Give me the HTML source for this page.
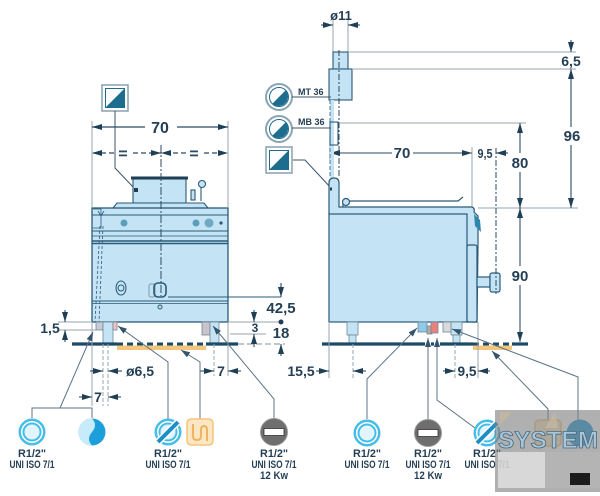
<!DOCTYPE html>
<html><head><meta charset="utf-8"><style>
html,body{margin:0;padding:0;background:#fff;}
svg{display:block;}
text{font-family:"Liberation Sans",Arial,sans-serif;font-weight:bold;fill:#243f55;}
</style></head><body>
<svg width="600" height="496" viewBox="0 0 600 496" xmlns="http://www.w3.org/2000/svg">
<defs>
<marker id="a" viewBox="0 0 10 6" refX="10" refY="3" markerWidth="10" markerHeight="6" markerUnits="userSpaceOnUse" orient="auto-start-reverse"><path d="M0,0L10,3L0,6z" fill="#1f3f56"/></marker>
<marker id="b" viewBox="0 0 9 6" refX="9" refY="3" markerWidth="9" markerHeight="6" markerUnits="userSpaceOnUse" orient="auto-start-reverse"><path d="M0,0L9,3L0,6z" fill="#34546a"/></marker>
</defs>
<rect width="600" height="496" fill="#fff"/>

<!-- ================= LEFT (FRONT) VIEW ================= -->
<g transform="translate(115,98)">
 <rect x="-13" y="-13" width="26" height="26" fill="#fff" stroke="#8aa0ae" stroke-width="1.5"/>
 <rect x="-9.5" y="-9.5" width="19" height="19" fill="#fff" stroke="#1d6d8f" stroke-width="1"/>
 <polygon points="-9.5,9.5 9.5,-9.5 9.5,9.5" fill="#1d6d8f"/>
</g>
<polyline points="115,111 115,168 135,189" fill="none" stroke="#3b5569" stroke-width="1"/>

<g stroke="#9aa7b0" stroke-width="1" fill="none">
 <line x1="92" y1="121" x2="92" y2="207"/>
 <line x1="228" y1="121" x2="228" y2="207"/>
</g>
<g stroke="#2e4a60" stroke-width="1.2" fill="none">
 <line x1="145" y1="127" x2="92" y2="127" marker-end="url(#a)"/>
 <line x1="177" y1="127" x2="228" y2="127" marker-end="url(#a)"/>
</g>
<text x="160" y="133" font-size="16" text-anchor="middle">70</text>
<g stroke="#2e4a60" stroke-width="1.2" stroke-dasharray="5,3" fill="none">
 <line x1="114" y1="153" x2="92" y2="153" marker-end="url(#a)"/>
 <line x1="133" y1="153" x2="161" y2="153" marker-end="url(#a)"/>
 <line x1="186" y1="153" x2="161" y2="153" marker-end="url(#a)"/>
 <line x1="204" y1="153" x2="228" y2="153" marker-end="url(#a)"/>
</g>
<g fill="#2e4a60">
 <rect x="119" y="150.5" width="8" height="1.8"/><rect x="119" y="154.5" width="8" height="1.8"/>
 <rect x="190" y="150.5" width="8" height="1.8"/><rect x="190" y="154.5" width="8" height="1.8"/>
</g>

<g stroke="#2a5a78" stroke-width="1.1" fill="#c4e4f5">
 <rect x="133" y="179" width="53" height="24"/>
 <polygon points="113,208 117,203 204,203 208,208"/>
 <rect x="191" y="190" width="4" height="10"/>
 <line x1="201" y1="187" x2="201" y2="201"/>
 <circle cx="202" cy="184" r="3.5"/>
</g>
<rect x="131" y="176.5" width="57" height="3" fill="#1f3f56"/>
<rect x="134" y="188" width="4" height="4" fill="#1f3f56"/>

<rect x="92" y="208" width="136" height="114" fill="#c4e4f5" stroke="#2a5a78" stroke-width="1.3"/>
<g stroke="#2a5a78" fill="none">
 <line x1="92" y1="215" x2="228" y2="215" stroke-width="1"/>
 <line x1="92" y1="231" x2="228" y2="231" stroke-width="1"/>
 <line x1="92" y1="236" x2="228" y2="236" stroke-width="0.8"/>
 <line x1="92" y1="241" x2="228" y2="241" stroke-width="1.4"/>
 <line x1="92" y1="243.5" x2="228" y2="243.5" stroke-width="1.4"/>
 <line x1="92" y1="301" x2="228" y2="301" stroke-width="1"/>
 <line x1="92" y1="303.5" x2="228" y2="303.5" stroke-width="0.8"/>
 <path d="M93,209 L101,209 L101,228 L93,228" stroke-width="0.8"/>
 <path d="M98,211 L101,216 L104,211" stroke-width="0.8"/>
 <line x1="100" y1="226" x2="95" y2="322" stroke-dasharray="3,2" stroke-width="0.8"/>
 <line x1="103" y1="226" x2="99" y2="322" stroke-dasharray="3,2" stroke-width="0.8"/>
</g>
<g fill="#5b9dbb">
 <circle cx="124" cy="223" r="3.5"/>
 <circle cx="196" cy="223" r="3.5"/>
 <circle cx="209" cy="223" r="4.5" fill="#6fa9c3"/>
 <circle cx="221" cy="223" r="1.6" fill="#2a5a78"/>
</g>
<g fill="none" stroke="#2a5a78" stroke-width="1">
 <ellipse cx="121" cy="288" rx="5" ry="7"/>
 <circle cx="121" cy="288" r="3"/>
 <rect x="149" y="284" width="6" height="13" rx="2" stroke="#7a9aae"/>
 <rect x="154" y="283" width="12" height="14" rx="4" stroke-width="1.6"/>
 <circle cx="160" cy="307" r="2"/>
</g>
<line x1="161" y1="145" x2="161" y2="296" stroke="#2e4a60" stroke-width="1" stroke-dasharray="8,2,2,2"/>

<g stroke="#6f8797" stroke-width="0.8">
 <rect x="96" y="322" width="7" height="8" fill="#c9cdd3"/>
 <rect x="103" y="322" width="10" height="21" fill="#c4e4f5"/>
 <rect x="113" y="322" width="4" height="8" fill="#f3c3bd"/>
 <rect x="202" y="322" width="8" height="13" fill="#c9c3cc"/>
 <rect x="210" y="322" width="9" height="21" fill="#c4e4f5"/>
</g>
<rect x="117" y="345.5" width="89" height="4.5" fill="#f4c67d"/>
<line x1="72" y1="344" x2="117" y2="344" stroke="#1b4a66" stroke-width="3.2"/>
<line x1="117" y1="344" x2="206" y2="344" stroke="#1b4a66" stroke-width="3" stroke-dasharray="6,4"/>
<line x1="206" y1="344" x2="238" y2="344" stroke="#1b4a66" stroke-width="3.2"/>
<line x1="238" y1="344" x2="285" y2="344" stroke="#9aa7b0" stroke-width="1.2" stroke-dasharray="6,3"/>

<g stroke="#9aa7b0" stroke-width="1" fill="none">
 <line x1="58" y1="322" x2="92" y2="322"/>
 <line x1="58" y1="330" x2="96" y2="330"/>
 <line x1="92" y1="322" x2="92" y2="406"/>
 <line x1="103" y1="344" x2="103" y2="406" stroke-dasharray="4,2"/>
 <line x1="108" y1="344" x2="108" y2="406" stroke-dasharray="4,2"/>
 <line x1="214" y1="344" x2="214" y2="376" stroke-dasharray="4,2"/>
 <line x1="228" y1="322" x2="228" y2="376"/>
 <line x1="228" y1="322" x2="281" y2="322"/>
 <line x1="230" y1="334" x2="266" y2="334"/>
 <line x1="228" y1="297" x2="168" y2="297" stroke="#2a5a78"/>
 <line x1="228" y1="297" x2="281" y2="297" stroke="#2a5a78"/>
</g>
<g stroke="#2e4a60" stroke-width="1.1" fill="none">
 <line x1="65" y1="310" x2="65" y2="322" marker-end="url(#a)"/>
 <line x1="65" y1="342" x2="65" y2="330" marker-end="url(#a)"/>
 <line x1="254" y1="310" x2="254" y2="322" marker-end="url(#a)"/>
 <line x1="254" y1="347" x2="254" y2="334" marker-end="url(#a)"/>
 <line x1="281" y1="283" x2="281" y2="297" marker-end="url(#a)"/>
 <line x1="281" y1="356" x2="281" y2="344" marker-end="url(#a)"/>
 <line x1="90" y1="371" x2="103" y2="371" marker-end="url(#a)"/>
 <line x1="122" y1="371" x2="108" y2="371" marker-end="url(#a)"/>
 <line x1="200" y1="371" x2="214" y2="371" marker-end="url(#a)"/>
 <line x1="241" y1="371" x2="228" y2="371" marker-end="url(#a)"/>
 <line x1="79" y1="397" x2="92" y2="397" marker-end="url(#a)"/>
 <line x1="121" y1="397" x2="108" y2="397" marker-end="url(#a)"/>
</g>
<circle cx="281" cy="322" r="2.5" fill="#1f3f56"/>
<text x="50" y="333" font-size="14" text-anchor="middle">1,5</text>
<text x="255" y="332" font-size="12" text-anchor="middle">3</text>
<text x="281" y="313" font-size="15" text-anchor="middle">42,5</text>
<text x="281" y="338" font-size="15" text-anchor="middle">18</text>
<text x="140" y="376" font-size="14" text-anchor="middle">ø6,5</text>
<text x="221" y="376" font-size="14" text-anchor="middle">7</text>
<text x="98" y="402" font-size="14" text-anchor="middle">7</text>

<g stroke="#5c7384" stroke-width="1" fill="none">
 <line x1="60" y1="408" x2="93" y2="332" marker-end="url(#b)"/>
 <polyline points="32,418 32,408 92,408 92,418"/>
 <polyline points="168,419 168,362 118,326" marker-end="url(#b)"/>
 <polyline points="200,419 200,362 181,350" marker-end="url(#b)"/>
 <polyline points="274,419 274,399 213,326" marker-end="url(#b)"/>
</g>

<g transform="translate(32,432)">
 <circle r="13.5" fill="#45bde8"/><circle r="11" fill="#fff"/><circle r="9.5" fill="#45bde8"/><circle r="7.5" fill="#e3f5fc"/>
</g>
<g transform="translate(92,432)">
 <circle r="13.5" fill="#1d9fdc"/>
 <path d="M0,-13.5 A13.5,13.5 0 0 0 0,13.5 Q-6,7 0,0 Q6,-7 0,-13.5Z" fill="#c8ebfa"/>
</g>
<g transform="translate(168,432)">
 <circle r="13.5" fill="#45bde8"/><circle r="11" fill="#fff"/><circle r="9.5" fill="#45bde8"/><circle r="7.5" fill="#e3f5fc"/>
 <line x1="-10" y1="10" x2="10" y2="-10" stroke="#fff" stroke-width="7"/>
 <line x1="-10" y1="10" x2="10" y2="-10" stroke="#1e8ec6" stroke-width="4"/>
</g>
<g transform="translate(200,432)">
 <rect x="-13" y="-13" width="26" height="26" rx="4" fill="#fde6c2" stroke="#f3c47f" stroke-width="1.5"/>
 <path d="M-7,-8 V4 Q-7,8 -3,8 Q1,8 1,4 V-2 Q1,-6 4,-6 Q7,-6 7,-2 V9" fill="none" stroke="#efb463" stroke-width="2"/>
</g>
<g transform="translate(274,432)">
 <circle r="13.5" fill="#6e6e6e" stroke="#9a9a9a" stroke-width="1"/>
 <rect x="-10" y="-3.5" width="20" height="7" fill="#fff" stroke="#333" stroke-width="0.8"/>
</g>
<g font-size="11" text-anchor="middle">
 <text x="32" y="457" textLength="28" lengthAdjust="spacingAndGlyphs">R1/2"</text>
 <text x="32" y="468" textLength="45" lengthAdjust="spacingAndGlyphs">UNI ISO 7/1</text>
 <text x="168" y="457" textLength="28" lengthAdjust="spacingAndGlyphs">R1/2"</text>
 <text x="168" y="468" textLength="45" lengthAdjust="spacingAndGlyphs">UNI ISO 7/1</text>
 <text x="274" y="457" textLength="28" lengthAdjust="spacingAndGlyphs">R1/2"</text>
 <text x="274" y="468" textLength="45" lengthAdjust="spacingAndGlyphs">UNI ISO 7/1</text>
 <text x="274" y="479" textLength="28" lengthAdjust="spacingAndGlyphs">12 Kw</text>
</g>

<!-- ================= RIGHT (SIDE) VIEW ================= -->
<g stroke="#9aa7b0" stroke-width="1" fill="none">
 <line x1="333" y1="18" x2="333" y2="52"/>
 <line x1="348" y1="18" x2="348" y2="52"/>
 <line x1="349" y1="52" x2="576" y2="52"/>
 <line x1="353" y1="69" x2="576" y2="69"/>
 <line x1="340" y1="123" x2="526" y2="123"/>
 <line x1="478" y1="208" x2="578" y2="208"/>
 <line x1="330" y1="145" x2="330" y2="160"/>
 <line x1="472" y1="147" x2="472" y2="207"/>
</g>
<g stroke="#2e4a60" stroke-width="1.1" fill="none">
 <line x1="321" y1="25" x2="333" y2="25" marker-end="url(#a)"/>
 <line x1="360" y1="25" x2="348" y2="25" marker-end="url(#a)"/>
 <line x1="571" y1="40" x2="571" y2="52" marker-end="url(#a)"/>
 <line x1="571" y1="127" x2="571" y2="69" marker-end="url(#a)"/>
 <line x1="571" y1="145" x2="571" y2="208" marker-end="url(#a)"/>
 <line x1="520" y1="153" x2="520" y2="123" marker-end="url(#a)"/>
 <line x1="520" y1="172" x2="520" y2="208" marker-end="url(#a)"/>
 <line x1="520" y1="266" x2="520" y2="208" marker-end="url(#a)"/>
 <line x1="520" y1="285" x2="520" y2="342" marker-end="url(#a)"/>
 <line x1="392" y1="153" x2="330" y2="153" marker-end="url(#a)"/>
 <line x1="413" y1="153" x2="472" y2="153" marker-end="url(#a)"/>
 <line x1="508" y1="153" x2="496" y2="153" marker-end="url(#a)"/>
</g>
<text x="341" y="20" font-size="13" text-anchor="middle">ø11</text>
<text x="571" y="66" font-size="14" text-anchor="middle">6,5</text>
<text x="572" y="141" font-size="15" text-anchor="middle">96</text>
<text x="520" y="168" font-size="15" text-anchor="middle">80</text>
<text x="520" y="281" font-size="15" text-anchor="middle">90</text>
<text x="402" y="158" font-size="15" text-anchor="middle">70</text>
<text x="485" y="158" font-size="13" text-anchor="middle" textLength="15" lengthAdjust="spacingAndGlyphs">9,5</text>

<g stroke="#2a5a78" stroke-width="1.1" fill="#c4e4f5">
 <rect x="333" y="52" width="15" height="17"/>
 <rect x="329" y="69" width="23" height="31"/>
 <rect x="330" y="100" width="4" height="78" stroke="none"/>
 <rect x="330" y="122" width="8" height="23" fill="none"/>
</g>
<line x1="339" y1="50" x2="339" y2="178" stroke="#2e4a60" stroke-width="1" stroke-dasharray="6,2,2,2"/>
<line x1="330" y1="100" x2="330" y2="178" stroke="#2a5a78" stroke-width="0.8" stroke-dasharray="4,2"/>

<g transform="translate(279,97)">
 <circle r="13" fill="#fff" stroke="#8aa4b4" stroke-width="2"/>
 <circle r="9.5" fill="#fff" stroke="#1d6d8f" stroke-width="1"/>
 <path d="M-6.7,6.7 A9.5,9.5 0 0 0 6.7,-6.7Z" fill="#1d6d8f"/>
</g>
<g transform="translate(279,129)">
 <circle r="13" fill="#fff" stroke="#8aa4b4" stroke-width="2"/>
 <circle r="9.5" fill="#fff" stroke="#1d6d8f" stroke-width="1"/>
 <path d="M-6.7,6.7 A9.5,9.5 0 0 0 6.7,-6.7Z" fill="#1d6d8f"/>
</g>
<g transform="translate(279,160)">
 <rect x="-13" y="-13" width="26" height="26" fill="#fff" stroke="#8aa0ae" stroke-width="1.5"/>
 <rect x="-9.5" y="-9.5" width="19" height="19" fill="#fff" stroke="#1d6d8f" stroke-width="1"/>
 <polygon points="-9.5,9.5 9.5,-9.5 9.5,9.5" fill="#1d6d8f"/>
</g>
<text x="298" y="95" font-size="9">MT 36</text>
<text x="298" y="125" font-size="9">MB 36</text>
<g stroke="#3b5569" stroke-width="1" fill="none">
 <line x1="292" y1="97" x2="331" y2="97"/>
 <line x1="292" y1="128" x2="331" y2="128"/>
 <polyline points="293,160 305,160 331,188"/>
</g>

<g stroke="#2a5a78" stroke-width="1.2" fill="#c4e4f5">
 <path d="M329,214 V183 Q329,178 334,178 Q339,178 339,183 V207 H472 Q475,208 474,212 L478,216 L478,245 L477,322 L467,322 L467,245 Z"/>
 <rect x="329" y="214" width="138" height="108"/>
 <path d="M343,207 V201 H458 L463,197" fill="none"/>
 <circle cx="346" cy="202" r="3.5"/>
 <rect x="467" y="245" width="10" height="77" rx="2"/>
 <rect x="477" y="277" width="13" height="10"/>
 <rect x="490" y="273" width="10" height="19" rx="2"/>
</g>
<path d="M474,214 L480,220 L481,232 L475,226 Z" fill="#2f86ad"/>
<line x1="330" y1="189" x2="332" y2="189" stroke="#1f3f56" stroke-width="3"/>
<line x1="496" y1="148" x2="496" y2="294" stroke="#2e4a60" stroke-width="1" stroke-dasharray="6,2,2,2"/>

<g stroke="#6f8797" stroke-width="0.8">
 <rect x="347" y="322" width="11" height="13" fill="#c4e4f5"/>
 <rect x="349" y="335" width="7" height="8" fill="#c4e4f5"/>
 <rect x="451" y="322" width="11" height="13" fill="#c4e4f5"/>
 <rect x="453" y="335" width="7" height="8" fill="#c4e4f5"/>
 <rect x="418" y="322" width="9" height="10" fill="#8fcbe8"/>
 <rect x="427" y="326" width="5" height="8" fill="#b9a9a0"/>
 <rect x="431" y="322" width="7" height="11" fill="#e98080"/>
 <rect x="443" y="322" width="8" height="10" fill="#d8dadc"/>
</g>
<rect x="473" y="345.5" width="39" height="4.5" fill="#f4c67d"/>
<line x1="322" y1="344" x2="425" y2="344" stroke="#1b4a66" stroke-width="3.2"/>
<line x1="431" y1="344" x2="434" y2="344" stroke="#1b4a66" stroke-width="3.2"/>
<line x1="440" y1="344" x2="473" y2="344" stroke="#1b4a66" stroke-width="3.2"/>
<line x1="473" y1="344" x2="512" y2="344" stroke="#1b4a66" stroke-width="3" stroke-dasharray="6,4"/>
<line x1="512" y1="344" x2="528" y2="344" stroke="#1b4a66" stroke-width="3.2"/>

<g stroke="#9aa7b0" stroke-width="1" fill="none">
 <line x1="329" y1="322" x2="329" y2="378"/>
 <line x1="353" y1="344" x2="353" y2="378" stroke-dasharray="4,2"/>
 <line x1="455" y1="344" x2="455" y2="378" stroke-dasharray="4,2"/>
 <line x1="478" y1="322" x2="478" y2="378"/>
</g>
<g stroke="#2e4a60" stroke-width="1.1" fill="none">
 <line x1="316" y1="371" x2="329" y2="371" marker-end="url(#a)"/>
 <line x1="366" y1="371" x2="353" y2="371" marker-end="url(#a)"/>
 <line x1="443" y1="371" x2="455" y2="371" marker-end="url(#a)"/>
 <line x1="490" y1="371" x2="478" y2="371" marker-end="url(#a)"/>
</g>
<text x="301" y="376" font-size="14" text-anchor="middle">15,5</text>
<text x="467" y="376" font-size="14" text-anchor="middle" textLength="19" lengthAdjust="spacingAndGlyphs">9,5</text>

<g stroke="#5c7384" stroke-width="1" fill="none">
 <polyline points="367,419 367,379 417,328" marker-end="url(#b)"/>
 <line x1="428" y1="419" x2="428" y2="338" marker-end="url(#b)"/>
 <polyline points="475,428 437,400 437,338" marker-end="url(#b)"/>
 <polyline points="578,420 578,377 452,329" marker-end="url(#b)"/>
 <polyline points="548,420 548,409 492,351" marker-end="url(#b)"/>
</g>

<g transform="translate(367,433)">
 <circle r="13.5" fill="#45bde8"/><circle r="11" fill="#fff"/><circle r="9.5" fill="#45bde8"/><circle r="7.5" fill="#e3f5fc"/>
</g>
<g transform="translate(428,433)">
 <circle r="13.5" fill="#6e6e6e" stroke="#9a9a9a" stroke-width="1"/>
 <rect x="-10" y="-3.5" width="20" height="7" fill="#fff" stroke="#333" stroke-width="0.8"/>
</g>
<g transform="translate(487,433)">
 <circle r="13.5" fill="#45bde8"/><circle r="11" fill="#fff"/><circle r="9.5" fill="#45bde8"/><circle r="7.5" fill="#e3f5fc"/>
 <line x1="-10" y1="10" x2="10" y2="-10" stroke="#fff" stroke-width="7"/>
 <line x1="-10" y1="10" x2="10" y2="-10" stroke="#1e8ec6" stroke-width="4"/>
</g>
<g transform="translate(548,433)">
 <rect x="-13" y="-13" width="26" height="26" rx="4" fill="#fde6c2" stroke="#f3c47f" stroke-width="1.5"/>
</g>
<g transform="translate(580,433)">
 <circle r="13.5" fill="#1d9fdc"/>
</g>
<g font-size="11" text-anchor="middle">
 <text x="367" y="457" textLength="28" lengthAdjust="spacingAndGlyphs">R1/2"</text>
 <text x="367" y="468" textLength="45" lengthAdjust="spacingAndGlyphs">UNI ISO 7/1</text>
 <text x="428" y="457" textLength="28" lengthAdjust="spacingAndGlyphs">R1/2"</text>
 <text x="428" y="468" textLength="45" lengthAdjust="spacingAndGlyphs">UNI ISO 7/1</text>
 <text x="428" y="479" textLength="28" lengthAdjust="spacingAndGlyphs">12 Kw</text>
 <text x="487" y="457" textLength="28" lengthAdjust="spacingAndGlyphs">R1/2"</text>
 <text x="487" y="468" textLength="45" lengthAdjust="spacingAndGlyphs">UNI ISO 7/1</text>
</g>

<!-- watermark -->
<rect x="495" y="410" width="105" height="82" fill="#7f7f7f" opacity="0.62"/>
<rect x="498" y="452" width="47" height="36" fill="#e6e6e6" opacity="0.75"/>
<rect x="545" y="452" width="55" height="36" fill="#b8b8b8" opacity="0.5"/>
<polygon points="500,412 512,412 500,425" fill="#c9b9a0" opacity="0.7"/>
<polygon points="545,428 555,412 558,428" fill="#c9b9a0" opacity="0.7"/>
<rect x="570" y="473" width="20" height="12" fill="#1a1a1a"/>
<text x="548" y="448" font-size="24" text-anchor="middle" textLength="100" lengthAdjust="spacingAndGlyphs" style="fill:#a9c6d8;stroke:#4d6a80;stroke-width:0.8">SYSTEM</text>
</svg>
</body></html>
